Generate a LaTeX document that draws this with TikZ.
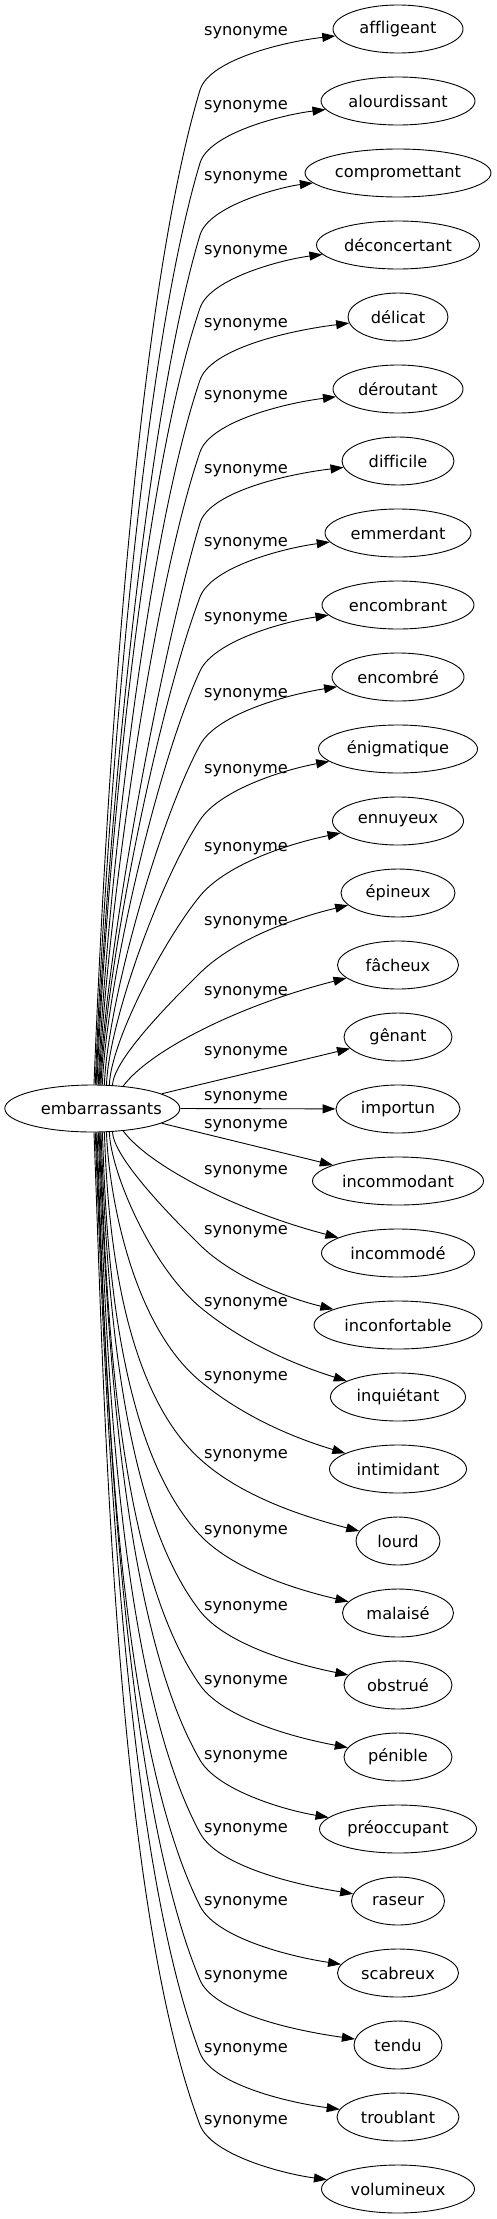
\documentclass[tikz,border=0pt]{standalone}
\usepackage{fontspec}
\setmainfont{DejaVu Sans}[Ligatures=NoCommon]
\usetikzlibrary{arrows.meta,shapes.geometric}
\newcommand\wfont{\fontsize{16.2}{19.4}\selectfont}
\tikzset{
  word/.style={draw, ellipse, inner sep=0pt, minimum height=48pt, line width=0.9pt, font=\wfont},
  lbl/.style={inner sep=0pt, font=\wfont},
  edge/.style={line width=0.9pt, -{Triangle[length=13pt,width=9pt]}},
}
\begin{document}
\begin{tikzpicture}[x=1pt,y=1pt]
\useasboundingbox (0,0) rectangle (496,-2219);
\node[word, minimum width=175pt, minimum height=47pt] (src) at (92.3,-1108.5) {\makebox[0pt]{\hspace*{18pt}embarrassants}};
\foreach \idx/\wrd/\wid in {0/affligeant/130,1/alourdissant/154,2/compromettant/186,3/déconcertant/163,4/délicat/100,5/déroutant/130,6/difficile/112,7/emmerdant/146,8/encombrant/152,9/encombré/132,10/énigmatique/159,11/ennuyeux/131,12/épineux/114,13/fâcheux/121,14/gênant/108,15/importun/124,16/incommodant/171,17/incommodé/153,18/inconfortable/168,19/inquiétant/135,20/intimidant/137,21/lourd/84,22/malaisé/111,23/obstrué/108,24/pénible/108,25/préoccupant/157,26/raseur/93,27/scabreux/121,28/tendu/88,29/troublant/122,30/volumineux/153}{
  \pgfmathsetmacro\myN{29+72*\idx}
  \node[word, minimum width=\wid pt] (t\idx) at (398,-\myN) {\makebox[0pt]{\wrd}};
}
% upper edges
\foreach \idx/\lab/\kk/\xs in {0/33/61/94, 1/107/62/95, 2/178/62/96, 3/252/63/97, 4/325/63/98, 5/397/63/99, 6/471/62/100, 7/544/64/101, 8/619/66/102, 9/695/68/104, 10/771/71/106, 11/849/75/109, 12/923/80/112}{
  \pgfmathsetmacro\myN{29+72*\idx}
  \pgfmathsetmacro\myYs{1108.5-23.5*sqrt(1-((\xs-92.3)/87.5)^2)}
  \pgfmathtruncatemacro\myang{round(atan2(23.5*sqrt(1-((\xs-92.3)/87.5)^2),\xs-92.3))}
  \pgfmathsetmacro\myK{\myN+\kk}
  \pgfmathsetmacro\myh{0.232*(\myYs-\myK)}
  \pgfmathsetmacro\mys{max(0.3,min(1.2,0.3+0.04*(\kk-62)))}
  \pgfmathsetmacro\myc{0.8*(\kk-45)}
  \draw[edge] (src.\myang) .. controls ({\xs+0.04*\myh},{\myh-\myYs}) and ({200-\mys*\myh},{-\myK-\myh}) .. (200,-\myK) .. controls ({200+30*\mys},{30-\myK}) and (283,{-\myN-\myc}) .. (t\idx);
  \node[lbl] (l\idx) at (246,-\lab) {synonyme};
}
% lower edges
\foreach \idx/\lab/\kk/\xs in {18/1232/80/112, 19/1304/90/109, 20/1378/88/106, 21/1456/82/104, 22/1532/78/102, 23/1608/74/101, 24/1682/72/100, 25/1757/69/99, 26/1830/68/98, 27/1903/67/97, 28/1977/65/96, 29/2050/64/95, 30/2122/64/94}{
  \pgfmathsetmacro\myN{29+72*\idx}
  \pgfmathsetmacro\myYs{1108.5+23.5*sqrt(1-((\xs-92.3)/87.5)^2)}
  \pgfmathtruncatemacro\myang{round(atan2(-23.5*sqrt(1-((\xs-92.3)/87.5)^2),\xs-92.3))}
  \pgfmathsetmacro\myK{\myN-\kk}
  \pgfmathsetmacro\myh{0.232*(\myK-\myYs)}
  \pgfmathsetmacro\mys{max(0.3,min(1.2,0.3+0.04*(\kk-62)))}
  \pgfmathsetmacro\myc{0.8*(\kk-45)}
  \draw[edge] (src.\myang) .. controls ({\xs+0.04*\myh},{-\myYs-\myh}) and ({200-\mys*\myh},{\myh-\myK}) .. (200,-\myK) .. controls ({200+30*\mys},{-\myK-30}) and (283,{\myc-\myN}) .. (t\idx);
  \node[lbl] (l\idx) at (246,-\lab) {synonyme};
}
% middle edges
\draw[edge] (src.36) .. controls (150,-1050) and (240,-1005) .. (t13);
\node[lbl] (l13) at (246,-993) {synonyme};
\draw[edge] (src.12) -- (t14);
\node[lbl] (l14) at (246,-1053) {synonyme};
\draw[edge] (src.east) -- (t15);
\node[lbl] (l15) at (246,-1098) {synonyme};
\draw[edge] (src.-12) -- (t16);
\node[lbl] (l16) at (246,-1126) {synonyme};
\draw[edge] (src.-36) .. controls (150,-1167) and (240,-1212) .. (t17);
\node[lbl] (l17) at (246,-1172) {synonyme};
\end{tikzpicture}
\end{document}
